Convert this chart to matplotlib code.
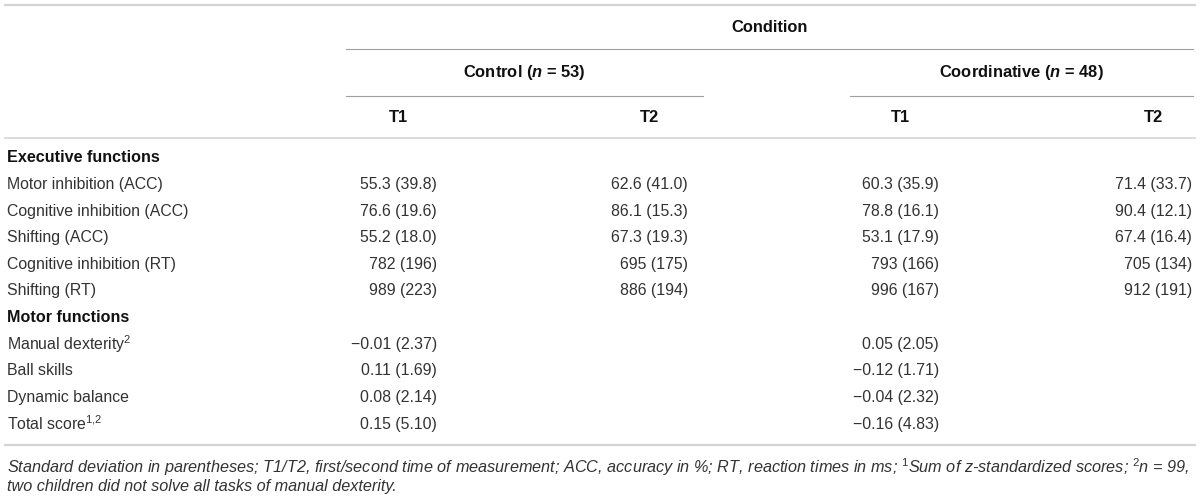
import matplotlib.pyplot as plt

plt.rcParams['font.family'] = ['Liberation Sans', 'DejaVu Sans']
plt.rcParams['mathtext.fontset'] = 'custom'
plt.rcParams['mathtext.rm'] = 'Liberation Sans'
plt.rcParams['mathtext.it'] = 'Liberation Sans:italic'
plt.rcParams['mathtext.bf'] = 'Liberation Sans:bold'
plt.rcParams['mathtext.bfit'] = 'Liberation Sans:italic:bold'

# table content
row_labels = ['Executive functions', 'Motor inhibition (ACC)', 'Cognitive inhibition (ACC)',
              'Shifting (ACC)', 'Cognitive inhibition (RT)', 'Shifting (RT)',
              'Motor functions', r'Manual dexterity$^2$', 'Ball skills',
              'Dynamic balance', r'Total score$^{1{,}2}$']
row_is_head = [True, False, False, False, False, False, True, False, False, False, False]
decimals = [None, 1, 1, 1, 0, 0, None, 2, 2, 2, 2]

ctrl_t1_mean = [None, 55.3, 76.6, 55.2, 782, 989, None, -0.01, 0.11, 0.08, 0.15]
ctrl_t1_sd = [None, 39.8, 19.6, 18.0, 196, 223, None, 2.37, 1.69, 2.14, 5.10]
ctrl_t2_mean = [None, 62.6, 86.1, 67.3, 695, 886, None, None, None, None, None]
ctrl_t2_sd = [None, 41.0, 15.3, 19.3, 175, 194, None, None, None, None, None]
coord_t1_mean = [None, 60.3, 78.8, 53.1, 793, 996, None, 0.05, -0.12, -0.04, -0.16]
coord_t1_sd = [None, 35.9, 16.1, 17.9, 166, 167, None, 2.05, 1.71, 2.32, 4.83]
coord_t2_mean = [None, 71.4, 90.4, 67.4, 705, 912, None, None, None, None, None]
coord_t2_sd = [None, 33.7, 12.1, 16.4, 134, 191, None, None, None, None, None]

col_headers = ['T1', 'T2', 'T1', 'T2']
group_headers = [r'Control ($\mathbfit{n}$ = 53)', r'Coordinative ($\mathbfit{n}$ = 48)']
top_header = 'Condition'
footnote = [r'Standard deviation in parentheses; T1/T2, first/second time of measurement; ACC, '
            r'accuracy in %; RT, reaction times in ms; $^1$Sum of z-standardized scores; $^2$$n$ = 99,',
            'two children did not solve all tasks of manual dexterity.']

columns = [(ctrl_t1_mean, ctrl_t1_sd), (ctrl_t2_mean, ctrl_t2_sd),
           (coord_t1_mean, coord_t1_sd), (coord_t2_mean, coord_t2_sd)]


def fmt(m, s, d):
    return f'{m:.{d}f} ({s:.{d}f})'.replace('-', '\u2212')


fig = plt.figure(figsize=(12, 5), dpi=100)
ax = fig.add_axes([0, 0, 1, 1])
ax.set_xlim(0, 1200)
ax.set_ylim(500, 0)
ax.axis('off')

fs = 11.4       # body text
fs_head = 11.9  # column headers
fs_sec = 11.6   # section labels
body_col = '#333333'
head_col = '#111111'
col_right = [437, 688, 939, 1192]
light = '#d4d4d4'
mid = '#a0a0a0'

# rules
ax.plot([5, 1195], [5, 5], color=light, lw=1.6)
ax.plot([346, 1193], [49, 49], color=mid, lw=0.8)
ax.plot([346, 703], [96, 96], color=mid, lw=0.8)
ax.plot([850, 1193], [96, 96], color=mid, lw=0.8)
ax.plot([5, 1195], [138, 138], color=light, lw=1.2)
ax.plot([5, 1195], [445, 445], color=light, lw=1.6)

# headers
ax.text(770, 27, top_header, ha='center', va='center', fontsize=fs_head, fontweight='bold', color=head_col)
ax.text(524, 73, group_headers[0], ha='center', va='center', fontsize=fs_head, fontweight='bold', color=head_col)
ax.text(1021, 73, group_headers[1], ha='center', va='center', fontsize=fs_head, fontweight='bold', color=head_col)
for x, h in zip(col_right, col_headers):
    ax.text(x - 39, 118, h, ha='center', va='center', fontsize=fs_head, fontweight='bold', color=head_col)

# body
for i, label in enumerate(row_labels):
    y = 158 + i * 26.6
    if row_is_head[i]:
        ax.text(7, y, label, ha='left', va='center', fontsize=fs_sec, fontweight='bold', color=head_col)
        continue
    ax.text(7, y, label, ha='left', va='center', fontsize=fs, color=body_col)
    for x, (means, sds) in zip(col_right, columns):
        if means[i] is None:
            continue
        ax.text(x, y, fmt(means[i], sds[i], decimals[i]), ha='right', va='center',
                fontsize=fs, color=body_col)

# footnote
ax.text(7, 467, footnote[0], ha='left', va='center', fontsize=11.7, style='italic', color=body_col)
ax.text(7, 487, footnote[1], ha='left', va='center', fontsize=11.7, style='italic', color=body_col)

fig.savefig('out.png', dpi=100)
